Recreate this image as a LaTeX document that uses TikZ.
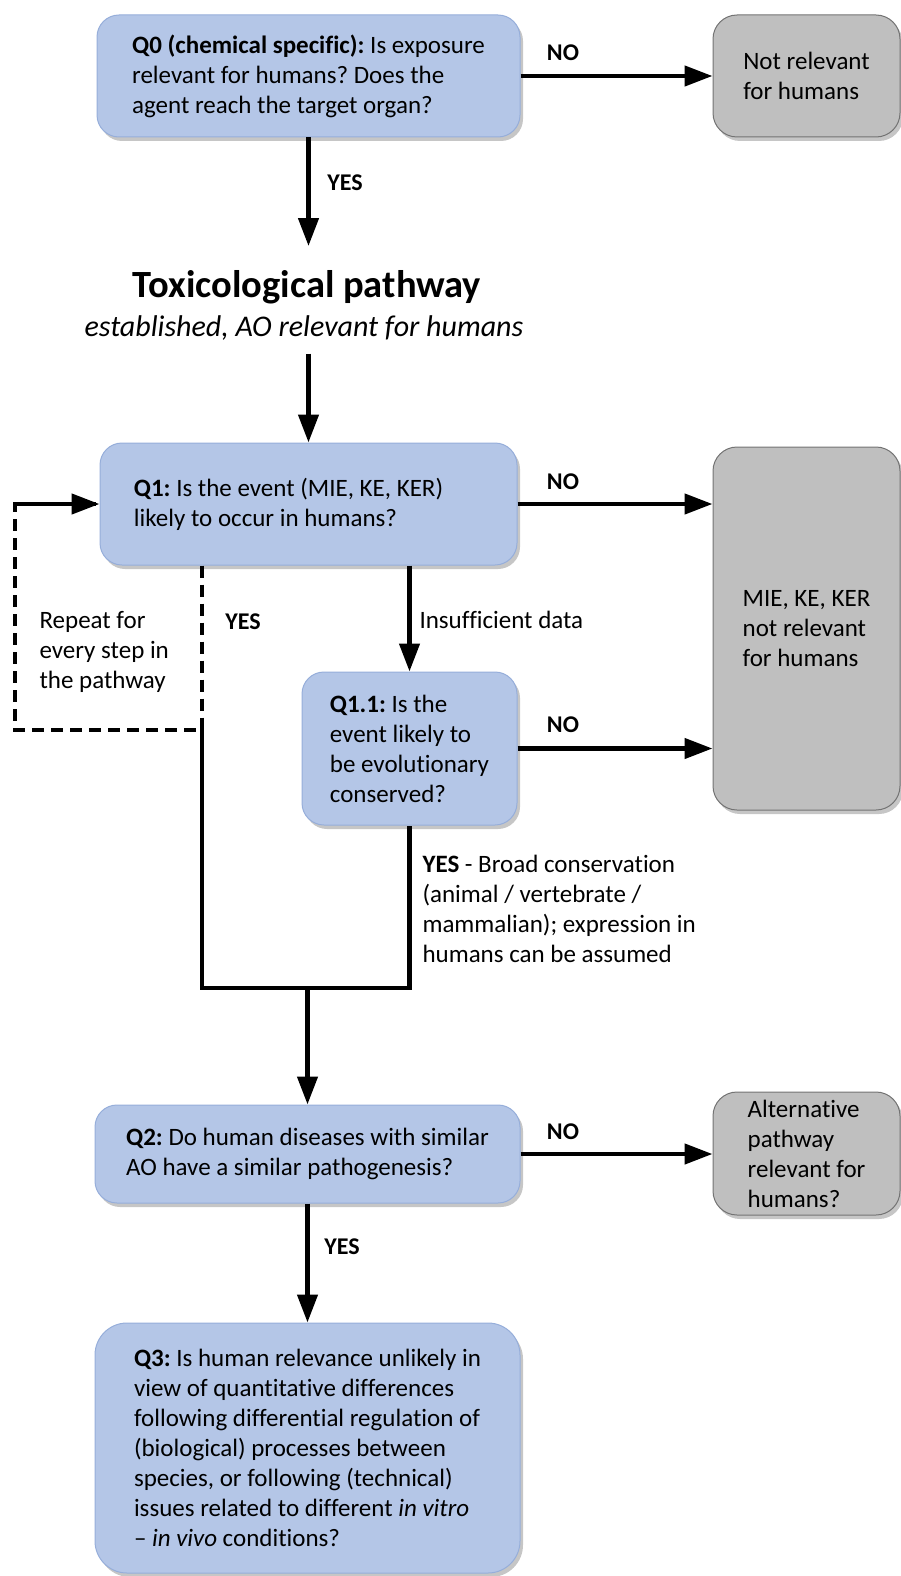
\documentclass[tikz,border=0pt]{standalone}
\usepackage{fontspec}
\setmainfont{Carlito}[Ligatures=NoCommon]
\usepackage{tikz}
\usetikzlibrary{arrows.meta}
\usetikzlibrary{shadows}
\usetikzlibrary{calc}
\frenchspacing

\definecolor{qblue}{RGB}{180,198,231}
\definecolor{qblueline}{RGB}{150,174,218}
\definecolor{endgray}{RGB}{191,191,191}
\definecolor{endgrayline}{RGB}{115,115,115}

\begin{document}
\begin{tikzpicture}[x=1pt,y=-1pt,
	every node/.style={font=\fontsize{25}{30}\selectfont},
	qbox/.style={draw=qblueline,fill=qblue,line width=1pt,rounded corners=22pt,align=left,inner sep=0pt,
		drop shadow={shadow xshift=3pt,shadow yshift=-4pt,opacity=.45}},
	endbox/.style={draw=endgrayline,fill=endgray,line width=1pt,rounded corners=24pt,align=left,inner sep=0pt,
		minimum width=187pt,drop shadow={shadow xshift=3pt,shadow yshift=-4pt,opacity=.45}},
	arr/.style={line width=4.5pt,-{Triangle[length=28pt,width=20pt]}},
	lnk/.style={line width=4.5pt},
	dsh/.style={line width=4.5pt,dash pattern=on 12pt off 7pt},
	lbl/.style={font=\fontsize{24}{28}\selectfont\bfseries}]
	\useasboundingbox (0,0) rectangle (901,1576);
	
	% questions
	\node[qbox,minimum width=423pt,minimum height=122pt] (q0) at (308.5,76)
		{\textbf{Q0 (chemical specific):} Is exposure\\relevant for humans? Does the\\agent reach the target organ?};
	\node[qbox,minimum width=417pt,minimum height=122pt] (q1) at (308.5,504)
		{\textbf{Q1:} Is the event (MIE, KE, KER)\hspace*{40pt}\\likely to occur in humans?};
	\node[qbox,minimum width=215pt,minimum height=153pt] (q11) at (409.5,748.5)
		{\textbf{Q1.1:} Is the\\event likely to\\be evolutionary\\conserved?};
	\node[qbox,minimum width=425pt,minimum height=98pt] (q2) at (307.5,1154)
		{\textbf{Q2:} Do human diseases with similar\\AO have a similar pathogenesis?};
	\node[qbox,minimum width=425pt,minimum height=250pt,rounded corners=32pt] (q3) at (307.5,1448)
		{\textbf{Q3:} Is human relevance unlikely in\\view of quantitative differences\\following differential regulation of\\(biological) processes between\\species, or following (technical)\\issues related to different \textit{in vitro}\\– \textit{in vivo} conditions?};
	
	% outcomes
	\node[endbox,minimum height=122pt] (notrel) at (806.5,76) {Not relevant\\for humans};
	\node[endbox,minimum height=363pt] (mie) at (806.5,628.5) {MIE, KE, KER\\not relevant\\for humans};
	\node[endbox,minimum height=123pt] (alt) at (806.5,1153.5) {Alternative\\pathway\\relevant for\\humans?};
	
	\node[font=\fontsize{38.5}{44}\selectfont\bfseries,inner ysep=24pt] (tox) at (307,287) {Toxicological pathway};
	\node[font=\fontsize{30}{34}\selectfont\itshape,inner ysep=13pt] (toxsub) at (304,328) {established, AO relevant for humans};
	
	% labels
	\node[lbl] (no0) at (563,53) {NO};
	\node[lbl] (yes0) at (345,183) {YES};
	\node[lbl] (no1) at (563,482) {NO};
	\node[lbl] (yes1) at (243,622) {YES};
	\node[lbl] (no11) at (563,725) {NO};
	\node[lbl] (no2) at (563,1132) {NO};
	\node[lbl] (yes2) at (342,1247) {YES};
	\node[anchor=west] (insuf) at (416,620) {Insufficient data};
	\node[anchor=west,align=left] (repeat) at (36,652) {Repeat for\\every step in\\the pathway};
	\node[anchor=west,align=left] (cons) at (419,909)
		{\textbf{YES} - Broad conservation\\(animal / vertebrate /\\mammalian); expression in\\humans can be assumed};
	
	\coordinate (lp1) at (202,730);
	\coordinate (lp2) at (15,730);
	\coordinate (mg) at (202,988);
	
	% connectors
	\draw[arr] (q0.east) -- (q0.east -| notrel.west);
	\draw[arr] (q0.south) -- (q0.south |- tox.north);
	\draw[arr] (q0.south |- toxsub.south) -- (q0.south |- q1.north);
	\draw[arr] (q1.east) -- (q1.east -| mie.west);
	\draw[arr] (q11.north |- q1.south) -- (q11.north);
	\draw[arr] (q11.east) -- (q11.east -| mie.west);
	\draw[dsh] (lp1 |- q1.south) -- (lp1) -- (lp2) |- (q1.west);
	\draw[dsh,-{Triangle[length=28pt,width=20pt]}] (lp2 |- q1.west) -- (q1.west);
	\draw[lnk] (lp1) -- (mg) -- (q11.south |- mg) -- (q11.south);
	\draw[arr] (q2.north |- mg) -- (q2.north);
	\draw[arr] (q2.east) -- (q2.east -| alt.west);
	\draw[arr] (q2.south) -- (q2.south |- q3.north);
\end{tikzpicture}
\end{document}
